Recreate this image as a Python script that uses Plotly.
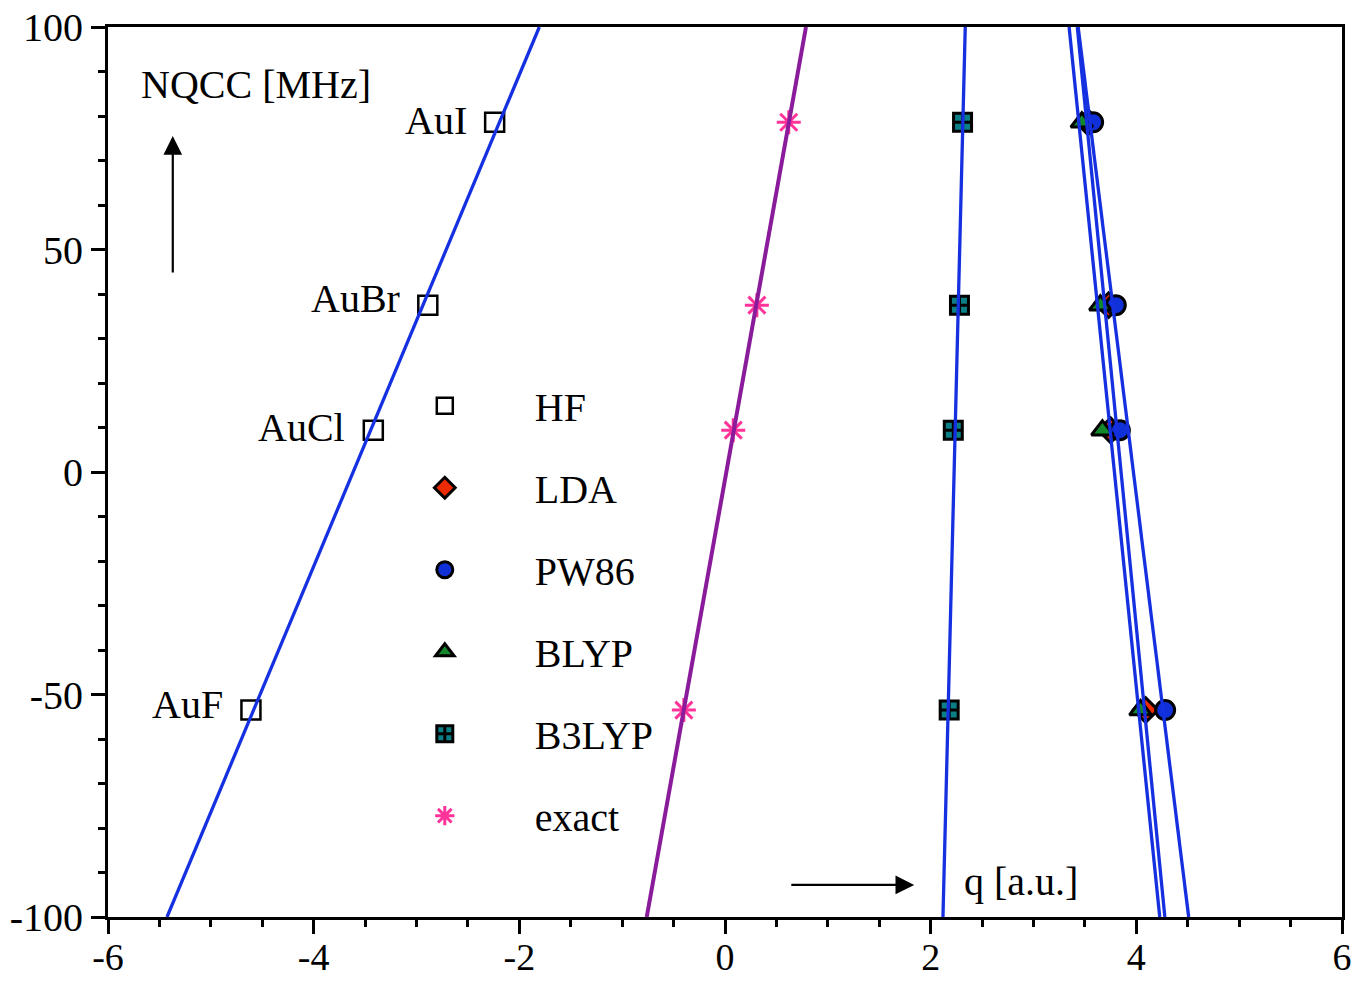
import numpy as np
import plotly.graph_objects as go

molecules = ["AuF", "AuCl", "AuBr", "AuI"]
nqcc = [-53.5, 9.4, 37.5, 78.6]          # NQCC [MHz]
q_hf = [-4.61, -3.42, -2.89, -2.24]
q_lda = [4.09, 3.75, 3.73, 3.53]
q_pw86 = [4.28, 3.84, 3.80, 3.58]
q_blyp = [4.04, 3.67, 3.65, 3.47]
q_b3lyp = [2.18, 2.22, 2.28, 2.31]
q_exact = [-0.40, 0.08, 0.31, 0.62]

y_ends = [-100, 100]
BLUE = "#1530e0"
FONT = "Liberation Serif"
FS = 40

fig = go.Figure()

series = [
    ("HF", q_hf, dict(symbol="square-open", color="black", size=19, line=dict(width=2.5, color="black"))),
    ("LDA", q_lda, dict(symbol="diamond", color="#ee2a00", size=19, line=dict(width=3, color="black"))),
    ("PW86", q_pw86, dict(symbol="circle", color="#1030d8", size=19, line=dict(width=3, color="black"))),
    ("BLYP", q_blyp, dict(symbol="triangle-up", color="#12882a", size=19, line=dict(width=3, color="black"))),
    ("B3LYP", q_b3lyp, dict(symbol="square-cross", color="#0a7f86", size=18, line=dict(width=3, color="black"))),
    ("exact", q_exact, dict(symbol="asterisk-open", color="#ff3399", size=20, line=dict(width=3, color="#ff3399"))),
]

for name, xs, mk in series:
    fig.add_trace(go.Scatter(x=xs, y=nqcc, mode="markers", name=name, marker=mk,
                             legendgroup=name, showlegend=True))

# least-squares fits (NQCC vs q), drawn on top of markers
fit_cols = {"HF": BLUE, "LDA": BLUE, "PW86": BLUE, "BLYP": BLUE, "B3LYP": BLUE, "exact": "#8a1c9c"}
for name, xs, mk in series:
    a, b = np.polyfit(xs, nqcc, 1)
    xe = [(y - b) / a for y in y_ends]
    fig.add_trace(go.Scatter(x=xe, y=y_ends, mode="lines", showlegend=False, hoverinfo="skip",
                             line=dict(color=fit_cols[name], width=3.3 if name != "exact" else 4)))

annotations = []
shifts = {"AuF": 6, "AuCl": 3, "AuBr": 7, "AuI": 2}
for m, x, y in zip(molecules, q_hf, nqcc):
    annotations.append(dict(x=x, y=y, text=m, showarrow=False, xanchor="right", yanchor="middle",
                            xshift=-26, yshift=shifts[m], font=dict(family=FONT, size=FS, color="black")))

annotations += [
    dict(x=-5.70, y=87, text="NQCC [MHz]", showarrow=False, xanchor="left", yanchor="middle",
         font=dict(family=FONT, size=FS, color="black")),
    dict(x=2.30, y=-92, text="q [a.u.]", showarrow=False, xanchor="left", yanchor="middle",
         font=dict(family=FONT, size=FS, color="black")),
    dict(x=-5.37, y=75.5, ax=-5.37, ay=44.5, xref="x", yref="y", axref="x", ayref="y",
         text="", showarrow=True, arrowhead=2, arrowsize=1.7, arrowwidth=2.2, arrowcolor="black"),
    dict(x=1.84, y=-92.8, ax=0.63, ay=-92.8, xref="x", yref="y", axref="x", ayref="y",
         text="", showarrow=True, arrowhead=2, arrowsize=1.7, arrowwidth=2.2, arrowcolor="black"),
]

xt = [-6, -4, -2, 0, 2, 4, 6]
yt = [-100, -50, 0, 50, 100]

fig.update_layout(
    width=1357, height=981,
    margin=dict(l=108, r=15, t=27, b=64),
    paper_bgcolor="white", plot_bgcolor="white",
    font=dict(family=FONT, size=FS, color="black"),
    annotations=annotations,
    legend=dict(x=0.200, y=0.611, xanchor="left", yanchor="top", bgcolor="rgba(0,0,0,0)",
                font=dict(family=FONT, size=FS, color="black"),
                itemwidth=170, tracegroupgap=27, traceorder="grouped", itemsizing="trace"),
    xaxis=dict(range=[-6, 6], tickvals=xt, ticktext=[str(v) for v in xt], showgrid=False, zeroline=False,
               showline=True, linecolor="black", linewidth=3, mirror=True, automargin=False,
               ticks="outside", ticklen=14, tickwidth=3, tickcolor="black", ticklabelstandoff=-10,
               minor=dict(dtick=0.5, ticks="outside", ticklen=7, tickwidth=2.5, tickcolor="black"),
               tickfont=dict(family=FONT, size=38)),
    yaxis=dict(range=[-100, 100], tickvals=yt, ticktext=[str(v) for v in yt], showgrid=False, zeroline=False,
               showline=True, linecolor="black", linewidth=3, mirror=True, automargin=False,
               ticks="outside", ticklen=14, tickwidth=3, tickcolor="black",
               minor=dict(dtick=10, ticks="outside", ticklen=7, tickwidth=2.5, tickcolor="black"),
               tickfont=dict(family=FONT, size=FS)),
)

fig.write_html("out.html")
